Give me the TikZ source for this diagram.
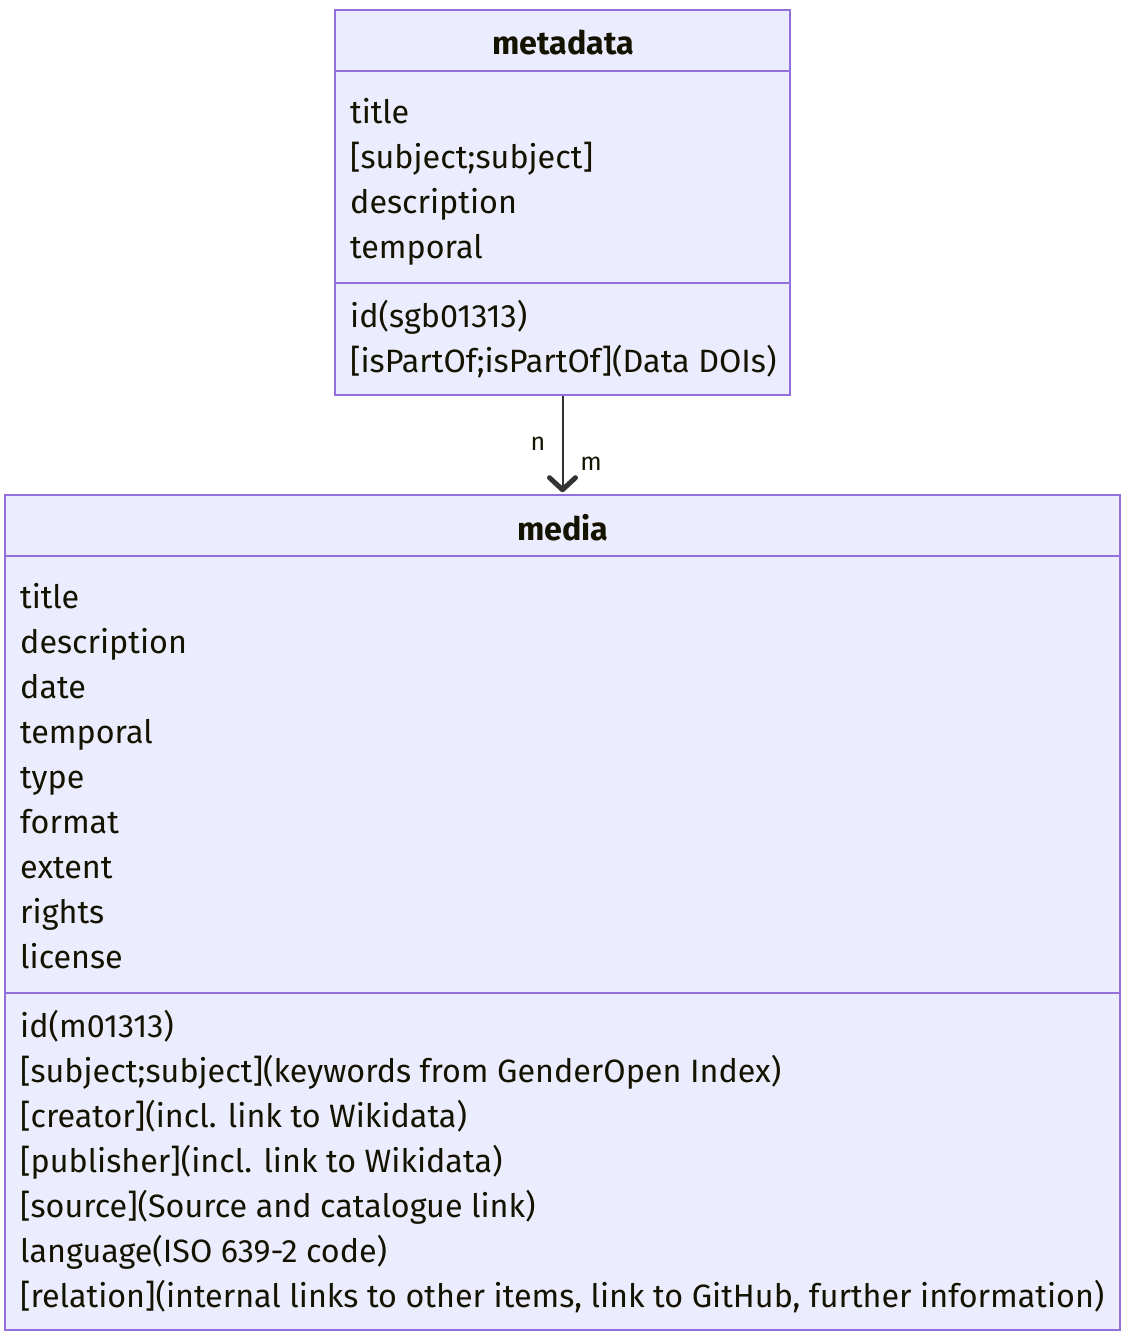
\documentclass[tikz,border=0pt]{standalone}
\usepackage{fontspec}
\setmainfont{Fira Sans}
\usetikzlibrary{arrows.meta}
\definecolor{boxfill}{HTML}{ECECFF}
\definecolor{boxline}{HTML}{9370DB}
\definecolor{txt}{HTML}{131300}
\definecolor{edge}{HTML}{333333}
\tikzset{
  classbox/.style={draw=boxline, fill=boxfill, line width=1.6pt, inner sep=0pt, rectangle},
  sep/.style={draw=boxline, line width=1.6pt},
  attr/.style={anchor=base west, inner sep=0pt, text=txt, font=\fontsize{32.3}{36}\selectfont},
  head/.style={anchor=base, inner sep=0pt, text=txt, font=\fontsize{32.3}{36}\selectfont\bfseries},
  card/.style={inner sep=0pt, text=txt, font=\fontsize{25}{28}\selectfont},
  rel/.style={draw=edge, line width=2pt, -{Straight Barb[length=12pt,width=26pt,line width=5pt,round]}}
}
\begin{document}
\begin{tikzpicture}[x=1pt,y=-1pt]
\useasboundingbox (0,0) rectangle (1126,1338);
% metadata box
\node[classbox, minimum width=455pt, minimum height=385pt] (meta) at (562.5,202.5) {};
\draw[sep] (335,71) -- (790,71);
\draw[sep] (335,283) -- (790,283);
\node[head] (metaH) at (563,55) {metadata};
\node[attr] (m1) at (350,123) {title};
\node[attr] (m2) at (350,168) {[subject;subject]};
\node[attr] (m3) at (350,213) {description};
\node[attr] (m4) at (350,258) {temporal};
\node[attr] (m5) at (350,327) {id(sgb01313)};
\node[attr] (m6) at (350,372) {[isPartOf;isPartOf](Data DOIs)};
% media box
\node[classbox, minimum width=1115pt, minimum height=835pt] (media) at (562.5,912.5) {};
\draw[sep] (5,556) -- (1120,556);
\draw[sep] (5,993) -- (1120,993);
\node[head] (mediaH) at (563,540) {media};
\node[attr] (a1) at (20,608) {title};
\node[attr] (a2) at (20,653) {description};
\node[attr] (a3) at (20,698) {date};
\node[attr] (a4) at (20,743) {temporal};
\node[attr] (a5) at (20,788) {type};
\node[attr] (a6) at (20,833) {format};
\node[attr] (a7) at (20,878) {extent};
\node[attr] (a8) at (20,923) {rights};
\node[attr] (a9) at (20,968) {license};
\node[attr] (b1) at (20,1037) {id(m01313)};
\node[attr] (b2) at (20,1082) {[subject;subject](keywords from GenderOpen Index)};
\node[attr] (b3) at (20,1127) {[creator](incl. link to Wikidata)};
\node[attr] (b4) at (20,1172) {[publisher](incl. link to Wikidata)};
\node[attr] (b5) at (20,1217) {[source](Source and catalogue link)};
\node[attr] (b6) at (20,1262) {language(ISO 639-2 code)};
\node[attr] (b7) at (20,1307) {[relation](internal links to other items, link to GitHub, further information)};
% relation
\draw[rel] (meta.south) -- ([yshift=2pt]media.north);
\node[card] (cn) at (538,444) {n};
\node[card] (cm) at (591,464) {m};
\end{tikzpicture}
\end{document}
